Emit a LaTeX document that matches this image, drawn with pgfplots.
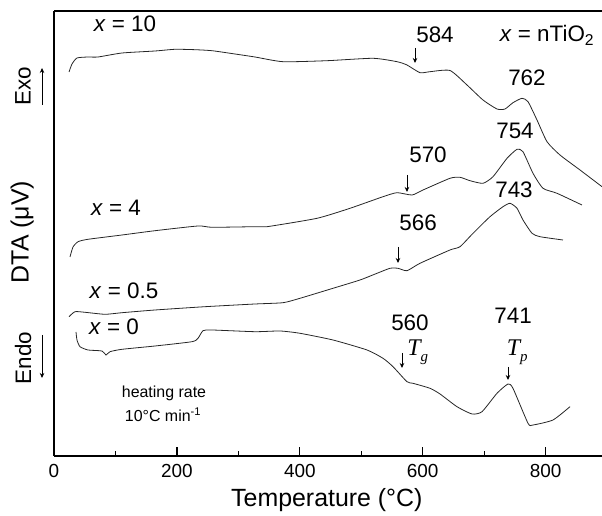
\documentclass[border=0pt]{standalone}
\usepackage{pgfplots}
\pgfplotsset{compat=1.18}
\usepackage{fontspec}
\setmainfont{Liberation Sans}
\newfontfamily\serif{Liberation Serif}
\usetikzlibrary{arrows.meta}
\newcommand{\fs}[1]{\fontsize{#1}{#1}\selectfont}
\begin{document}
\begin{tikzpicture}
\begin{axis}[
  scale only axis, width=548bp, height=445bp,
  xmin=0, xmax=891.8, ymin=60, ymax=505,
  axis lines=left, axis line style={-, line width=1.4bp},
  clip=false,
  xtick={0,200,400,600,800}, minor xtick={100,300,500,700},
  ytick=\empty,
  tick align=inside,
  major tick length=9bp, minor tick length=5bp,
  every tick/.style={line width=1.2bp, black},
  /pgf/number format/assume math mode=true,
  ticklabel style={font=\fs{19}},
  xticklabel style={yshift=-5bp},
  cycle list={{black!85}},
  no markers,
  every axis plot/.append style={line width=0.8bp, smooth, tension=0.35},
]
\addplot coordinates {(24.4,444) (29.3,452) (37.4,458) (55.3,459) (71.6,459) (110.7,463) (164.4,465) (196.9,466.7) (229.5,466.3) (257.1,465.3) (294.5,462) (327.1,459) (372.7,454.3) (444.3,455.3) (519.1,457.7) (558.2,454.3) (574.4,451) (595.6,443.3) (611.9,444.3) (644.4,445.5) (672.1,431) (698.1,416) (720.9,407) (733.9,407) (746.9,413.3) (761.6,417.7) (771.4,414.3) (786.0,396) (802.3,374.3) (823.4,361) (856.0,346) (891.8,329.3)};
\addplot coordinates {(26.0,259) (30.9,269) (39.1,274.3) (55.3,276.7) (110.7,281) (164.4,285.3) (234.3,290) (257.1,288.7) (327.1,289.3) (346.6,289.3) (428.0,297.7) (481.7,307.7) (535.4,319.3) (558.2,323.3) (582.6,321) (600.5,326) (644.4,337.7) (660.7,338.7) (677.0,335.3) (698.1,332.7) (714.4,339.3) (737.2,357.7) (753.5,366.7) (763.2,364.3) (779.5,342.7) (795.8,327.7) (818.6,322.7) (859.2,311)};
\addplot coordinates {(24.4,199.3) (34.2,204.3) (50.4,203.7) (83.0,201.7) (110.7,203.3) (164.4,206) (245.7,209.3) (327.1,212) (372.7,213.3) (400.3,217.7) (454.0,227.7) (498.0,236) (525.6,242.7) (546.8,247.7) (559.8,247.7) (574.4,245.3) (595.6,252.7) (644.4,266) (660.7,269.3) (681.9,282.7) (709.5,299.3) (730.7,309.3) (742.1,312.7) (753.5,307.7) (763.2,296) (777.9,282.7) (790.9,279.3) (828.3,276)};
\addplot coordinates {(35.8,184) (37.4,176) (42.3,169.3) (55.3,166) (78.1,165) (84.6,161) (91.1,164.3) (110.7,166.7) (164.4,170) (224.6,174.3) (234.3,177.7) (242.5,185.3) (257.1,186) (327.1,184.3) (367.8,185) (400.3,182.7) (454.0,176) (509.4,166) (535.4,157.7) (551.7,149.3) (574.4,134.3) (584.2,132.7) (611.9,127.7) (628.2,122) (655.8,109.3) (680.2,102) (696.5,104.3) (720.9,122.7) (738.8,132) (746.9,127.7) (771.4,92.7) (779.5,91) (812.0,96) (839.7,109.3)};
% top spine
\draw[line width=1.4bp] (rel axis cs:0,1) -- (rel axis cs:1,1);
% labels
\node[font=\fs{22.5}] at (axis cs:115.5,492) {\textit{x} = 10};
\node[font=\fs{22.5}] at (axis cs:802.3,481) {\textit{x} = nTiO\textsubscript{2}};
\node[font=\fs{22.5}] at (axis cs:100.9,308) {\textit{x} = 4};
\node[font=\fs{22.5}] at (axis cs:113.9,225) {\textit{x} = 0.5};
\node[font=\fs{22.5}] at (axis cs:97.6,189) {\textit{x} = 0};
\node[font=\fs{22.5}] at (axis cs:620,481) {584};
\node[font=\fs{22.5}] at (axis cs:769.7,438) {762};
\node[font=\fs{22.5}] at (axis cs:750.2,385) {754};
\node[font=\fs{22.5}] at (axis cs:608.6,361) {570};
\node[font=\fs{22.5}] at (axis cs:748.6,326) {743};
\node[font=\fs{22.5}] at (axis cs:592.4,293) {566};
\node[font=\fs{22.5}] at (axis cs:579.3,193) {560};
\node[font=\fs{22.5}] at (axis cs:747,200) {741};
\node[font=\fs{24}] at (axis cs:592,164) {\serif\itshape T\raisebox{-6bp}{\fs{15}g}};
\node[font=\fs{24}] at (axis cs:754,164) {\serif\itshape T\raisebox{-6bp}{\fs{15}p}};
\node[font=\fs{16}] at (axis cs:179,123) {heating rate};
\node[font=\fs{16}] at (axis cs:177.4,101) {10°C min\textsuperscript{-1}};
% arrows
\begin{scope}[-{Stealth[length=5bp,width=4.5bp]}, line width=0.9bp]
\draw (axis cs:587.5,468) -- (axis cs:587.5,453);
\draw (axis cs:574.4,341) -- (axis cs:574.4,324);
\draw (axis cs:559.8,269) -- (axis cs:559.8,253);
\draw (axis cs:566.3,163) -- (axis cs:566.3,148);
\draw (axis cs:738.8,149) -- (axis cs:738.8,136);
\draw (axis cs:-19.5,411) -- (axis cs:-19.5,448);
\draw (axis cs:-19.5,181) -- (axis cs:-19.5,138);
\end{scope}
\node[font=\fs{22.5}, rotate=90] at (axis cs:-50.4,430) {Exo};
\node[font=\fs{22.5}, rotate=90] at (axis cs:-50.4,158) {Endo};
\node[font=\fs{25}, rotate=90] at (axis cs:-52,284) {DTA (μV)};
\node[font=\fs{25}] at (axis cs:444,16) {Temperature (°C)};
\coordinate (bl) at (axis cs:-87.9,0);
\coordinate (tr) at (axis cs:891.8,516);
\end{axis}
\pgfresetboundingbox
\useasboundingbox (bl) rectangle (tr);
\end{tikzpicture}
\end{document}
